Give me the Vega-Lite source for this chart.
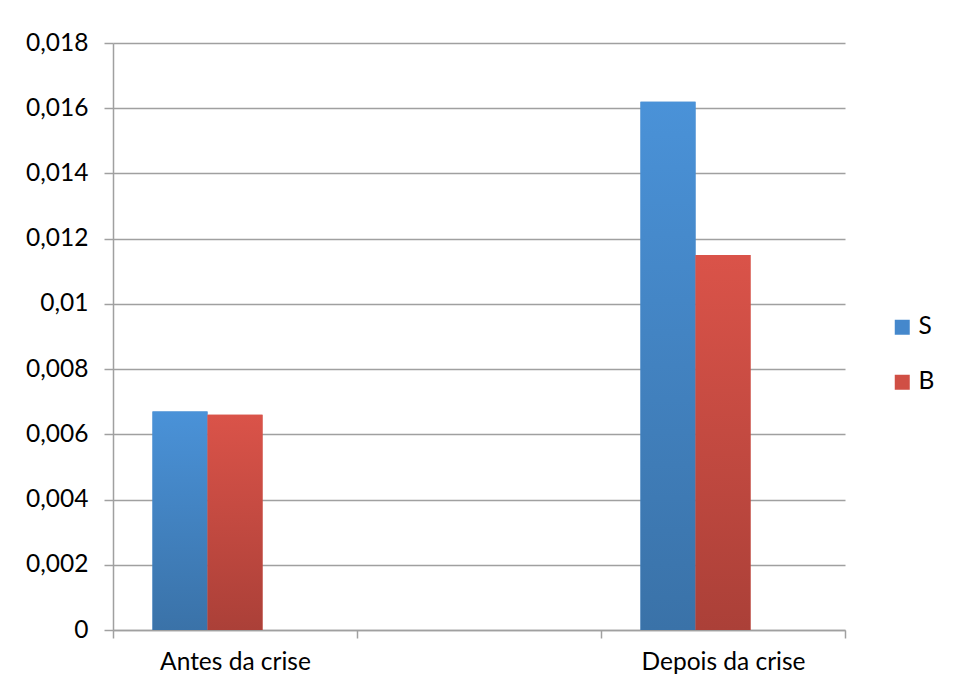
{
  "$schema": "https://vega.github.io/schema/vega-lite/v6.json",
  "width": 732,
  "height": 587,
  "autosize": {"type": "none"},
  "padding": {"left": 113, "top": 43, "right": 108, "bottom": 63},
  "background": "white",
  "config": {"view": {"stroke": null}, "font": "Lato"},
  "data": {
    "values": [
      {"periodo": "Antes da crise", "serie": "S", "valor": 0.0067},
      {"periodo": "Antes da crise", "serie": "B", "valor": 0.0066},
      {"periodo": "Depois da crise", "serie": "S", "valor": 0.0162},
      {"periodo": "Depois da crise", "serie": "B", "valor": 0.0115}
    ]
  },
  "encoding": {
    "x": {
      "field": "periodo",
      "type": "nominal",
      "scale": {"domain": ["Antes da crise", " ", "Depois da crise"], "paddingInner": 0, "paddingOuter": 0},
      "axis": {
        "title": null,
        "labelAngle": 0,
        "tickBand": "extent",
        "domainColor": "#a0a0a0",
        "domainWidth": 1.5,
        "tickColor": "#a0a0a0",
        "tickWidth": 1.5,
        "tickSize": 8,
        "labelFontSize": 24.5,
        "labelPadding": 12,
        "labelColor": "#000000",
        "grid": false
      }
    },
    "xOffset": {
      "field": "serie",
      "type": "nominal",
      "scale": {"domain": ["S", "B", "-"], "paddingInner": 0, "paddingOuter": 0.718}
    },
    "y": {
      "field": "valor",
      "type": "quantitative",
      "stack": null,
      "scale": {"domain": [0, 0.018], "nice": false},
      "axis": {
        "title": null,
        "values": [0, 0.002, 0.004, 0.006, 0.008, 0.01, 0.012, 0.014, 0.016, 0.018],
        "labelExpr": "replace(format(datum.value, '.3~f'), '.', ',')",
        "grid": true,
        "gridColor": "#a0a0a0",
        "gridWidth": 1.5,
        "domainColor": "#a0a0a0",
        "domainWidth": 1.5,
        "tickColor": "#a0a0a0",
        "tickWidth": 1.5,
        "tickSize": 9,
        "labelPadding": 16,
        "labelFontSize": 24.5,
        "labelColor": "#000000"
      }
    }
  },
  "layer": [
    {
      "mark": {"type": "bar"},
      "encoding": {
        "color": {
          "field": "serie",
          "type": "nominal",
          "scale": {"domain": ["S", "B"], "range": ["#4588cc", "#d04f45"]},
          "legend": {
            "title": null,
            "orient": "none",
            "legendX": 777,
            "legendY": 272,
            "padding": 0,
            "symbolType": "square",
            "symbolSize": 225,
            "symbolStrokeWidth": 0,
            "labelFontSize": 24.5,
            "labelColor": "#000000",
            "labelOffset": 4,
            "rowPadding": 30
          }
        }
      }
    },
    {
      "transform": [{"filter": "datum.serie === 'S'"}],
      "mark": {
        "type": "bar",
        "color": {
          "gradient": "linear", "x1": 0, "y1": 0, "x2": 0, "y2": 1,
          "stops": [{"offset": 0, "color": "#4a92d8"}, {"offset": 1, "color": "#3a72a8"}]
        }
      }
    },
    {
      "transform": [{"filter": "datum.serie === 'B'"}],
      "mark": {
        "type": "bar",
        "color": {
          "gradient": "linear", "x1": 0, "y1": 0, "x2": 0, "y2": 1,
          "stops": [{"offset": 0, "color": "#da5349"}, {"offset": 1, "color": "#ab4038"}]
        }
      }
    }
  ]
}
